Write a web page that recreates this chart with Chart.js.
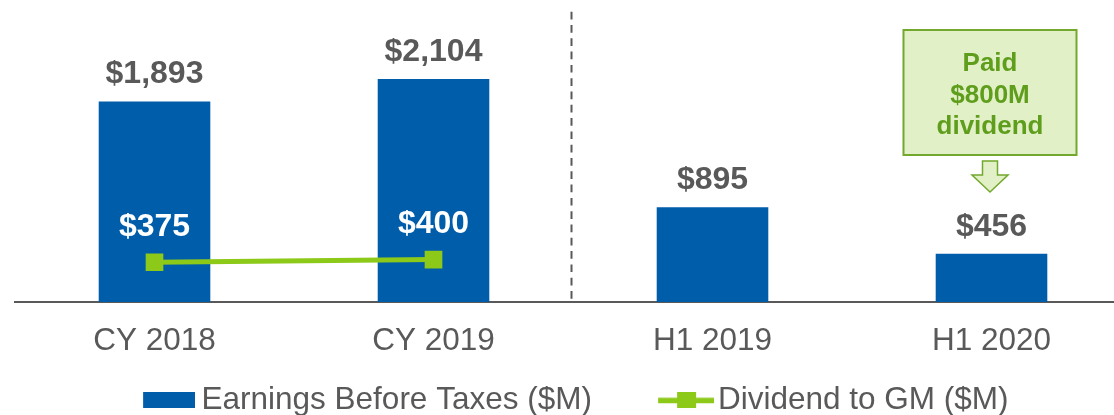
<!DOCTYPE html>
<html><head><meta charset="utf-8">
<script src="https://cdn.jsdelivr.net/npm/chart.js@4.4.1/dist/chart.umd.min.js"></script>
<style>
html,body{margin:0;padding:0;background:#fff;overflow:hidden;}
#clip{position:relative;width:1114px;height:415px;overflow:hidden;}
#wrap{position:absolute;top:0;}
</style></head><body>
<div id="clip"><div id="wrap"><canvas id="c"></canvas></div></div>
<script>
// ---- data ----
const categories = ['CY 2018', 'CY 2019', 'H1 2019', 'H1 2020'];
const earningsBeforeTaxes = [1893, 2104, 895, 456];
const dividendToGM = [375, 400, null, null];
const seriesNames = ['Earnings Before Taxes ($M)', 'Dividend to GM ($M)'];
const annotationLines = ['Paid', '$800M', 'dividend'];
const annotationCategory = 3;

// ---- style ----
const BLUE = '#005DAA';
const GREEN = '#8CC919';
const GRAY = '#595959';
const FAM = '"Liberation Sans", Arial, sans-serif';
const fmt = v => '$' + v.toLocaleString('en-US');

// ---- layout (page coordinates) ----
const AREA_L = 15, AREA_R = 1131, H = 426;
const LF = 31.5;            // legend font size
const legPad = 28;          // legend item spacing
const text1X = 201.5, text2X = 718;
const chartBottom = 302;
const mctx = document.createElement('canvas').getContext('2d');
mctx.font = LF + 'px ' + FAM;
const tw1 = mctx.measureText(seriesNames[0]).width;
const tw2 = mctx.measureText(seriesNames[1]).width;
const legBW = text2X - text1X - LF / 2 - tw1 - legPad;
const shift = AREA_R - legPad - tw1 - tw2 - 2 * text1X;   // canvas offset to the left
const W = AREA_R + shift;
const legendH = LF + legPad + 10;
const xAxisH = H - legendH - chartBottom;
const wrap = document.getElementById('wrap');
wrap.style.left = (-shift) + 'px';
wrap.style.width = W + 'px';
wrap.style.height = H + 'px';

function legendImage(gap, contentW, contentH, draw) {
  const w = Math.round(LF + legBW - 2 * gap);
  const cv = document.createElement('canvas');
  cv.width = w; cv.height = contentH;
  draw(cv.getContext('2d'), w - contentW, contentW, contentH);
  return cv;
}
const blueImg = legendImage(6.5, 52, 16, (c, x0, cw, h) => {
  c.fillStyle = BLUE; c.fillRect(x0, 0, cw, h);
});
const greenImg = legendImage(4, 56, 16, (c, x0, cw, h) => {
  c.fillStyle = GREEN;
  c.fillRect(x0, h / 2 - 2.5, cw, 5.5);
  c.fillRect(x0 + 19, 0, 19, h);
});

const labelsPlugin = {
  id: 'valueLabels',
  beforeDatasetsDraw(chart) {
    const {ctx, scales: {x}, chartArea} = chart;
    const mx = (x.getPixelForValue(1) + x.getPixelForValue(2)) / 2 - 1.5;
    ctx.save();
    ctx.strokeStyle = GRAY; ctx.lineWidth = 2;
    ctx.setLineDash([7.7, 5.6]);
    ctx.beginPath(); ctx.moveTo(mx, 11.7); ctx.lineTo(mx, chartArea.bottom); ctx.stroke();
    ctx.restore();
  },
  afterDatasetsDraw(chart) {
    const {ctx, scales: {x}} = chart;
    ctx.save();
    ctx.textAlign = 'center'; ctx.textBaseline = 'middle';
    ctx.font = 'bold 32px ' + FAM;
    ctx.fillStyle = GRAY;
    chart.getDatasetMeta(0).data.forEach((el, i) => {
      ctx.fillText(fmt(earningsBeforeTaxes[i]), el.x, el.y - 27);
    });
    ctx.fillStyle = '#FFFFFF';
    chart.getDatasetMeta(1).data.forEach((el, i) => {
      if (dividendToGM[i] == null) return;
      ctx.fillText(fmt(dividendToGM[i]), el.x, el.y - 35.5);
    });
    // annotation box
    const cx = x.getPixelForValue(annotationCategory) - 1.5;
    ctx.fillStyle = '#E2F0C8'; ctx.strokeStyle = '#72A82C'; ctx.lineWidth = 2;
    ctx.fillRect(cx - 86.5, 30, 173, 125);
    ctx.strokeRect(cx - 86.5, 30, 173, 125);
    ctx.fillStyle = '#5F9E1C';
    ctx.font = 'bold 26px ' + FAM;
    const ys = [64, 96, 127];
    annotationLines.forEach((t, i) => ctx.fillText(t, cx, ys[i]));
    // arrow
    ctx.beginPath();
    ctx.moveTo(cx - 7.5, 161); ctx.lineTo(cx + 7.5, 161); ctx.lineTo(cx + 7.5, 175);
    ctx.lineTo(cx + 18, 175); ctx.lineTo(cx, 192); ctx.lineTo(cx - 18, 175);
    ctx.lineTo(cx - 7.5, 175); ctx.closePath();
    ctx.fillStyle = '#E2F0C8'; ctx.fill();
    ctx.lineWidth = 1.5; ctx.strokeStyle = '#72A82C'; ctx.stroke();
    ctx.restore();
  }
};

new Chart(document.getElementById('c'), {
  data: {
    labels: categories,
    datasets: [
      {
        type: 'bar', label: seriesNames[0], data: earningsBeforeTaxes,
        backgroundColor: BLUE, barPercentage: 0.4, categoryPercentage: 1.0, order: 2
      },
      {
        type: 'line', label: seriesNames[1], data: dividendToGM,
        borderColor: GREEN, backgroundColor: GREEN, borderWidth: 5,
        pointStyle: 'rect', pointRadius: 12.5, pointBorderWidth: 0,
        pointBackgroundColor: GREEN, spanGaps: false, order: 1
      }
    ]
  },
  options: {
    responsive: true, maintainAspectRatio: false, animation: false,
    devicePixelRatio: 1,
    layout: { autoPadding: false, padding: 0 },
    plugins: {
      tooltip: { enabled: false },
      legend: {
        position: 'bottom', align: 'center',
        labels: {
          usePointStyle: true, pointStyleWidth: legBW, padding: legPad,
          color: GRAY, font: { size: LF, family: FAM },
          generateLabels: () => [
            { text: seriesNames[0], pointStyle: blueImg, fontColor: GRAY, datasetIndex: 0, hidden: false, lineWidth: 0 },
            { text: seriesNames[1], pointStyle: greenImg, fontColor: GRAY, datasetIndex: 1, hidden: false, lineWidth: 0 }
          ]
        }
      }
    },
    scales: {
      x: {
        grid: { display: false, drawTicks: false },
        border: { display: true, color: GRAY, width: 2 },
        ticks: { color: GRAY, font: { size: 31.5, family: FAM }, padding: 20, maxRotation: 0, autoSkip: false },
        afterFit: s => { s.height = xAxisH; }
      },
      y: {
        display: true, min: 0, max: 2850,
        grid: { display: false, drawTicks: false },
        border: { display: false },
        ticks: { display: false },
        afterFit: s => { s.width = AREA_L + shift; }
      }
    }
  },
  plugins: [labelsPlugin]
});
</script>
</body></html>
